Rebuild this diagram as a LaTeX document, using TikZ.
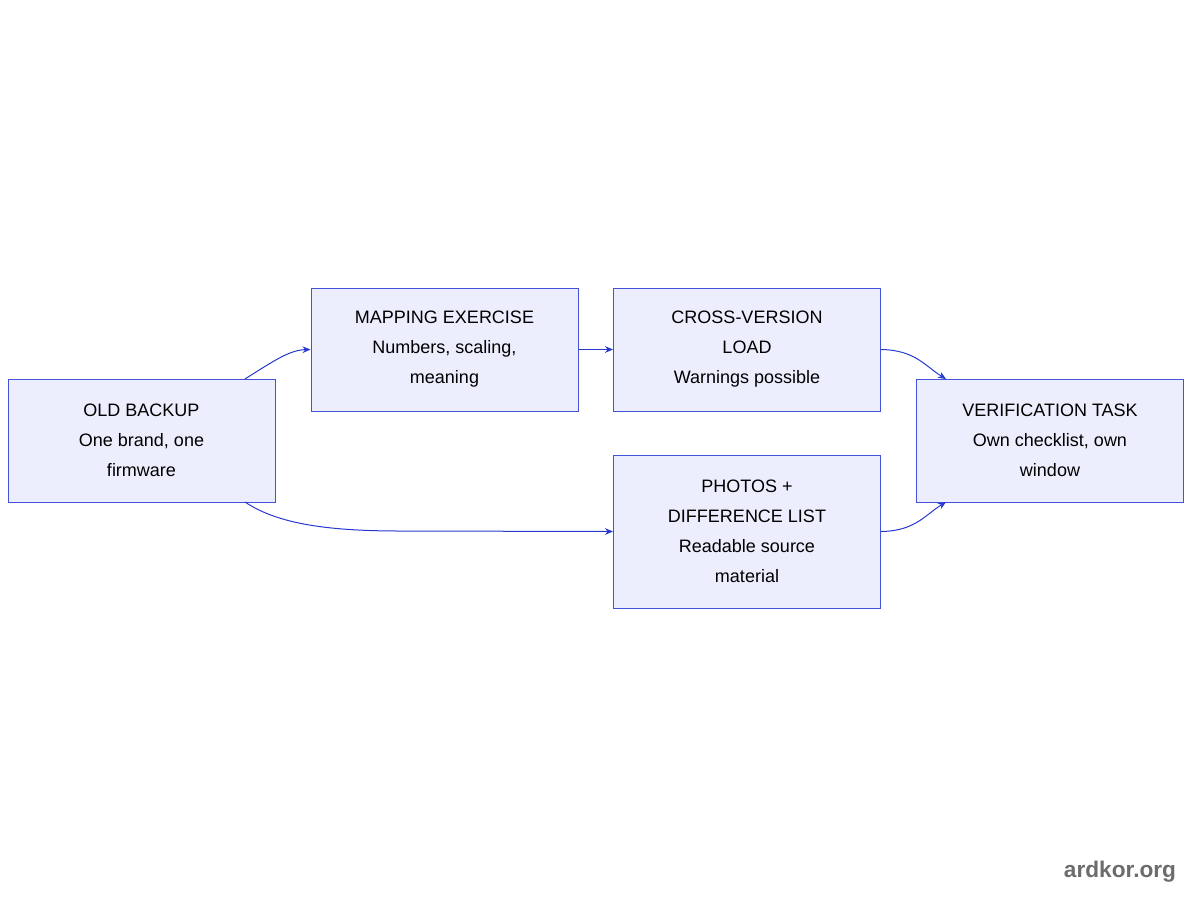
\documentclass[tikz,border=0pt]{standalone}
\usepackage{fontspec}
\setmainfont{Liberation Sans}
\usetikzlibrary{arrows.meta}
\definecolor{boxfill}{HTML}{ECEEFD}
\definecolor{boxline}{HTML}{4352D8}
\definecolor{edge}{HTML}{2638CF}
\begin{document}
\begin{tikzpicture}[x=0.75pt,y=-0.75pt,
  box/.style={draw=boxline,fill=boxfill,line width=0.75pt,minimum width=200.25pt,align=center,
    font=\fontsize{13.5}{22.5}\selectfont,inner sep=0pt},
  conn/.style={draw=edge,line width=0.75pt,-{Stealth[length=6pt,width=5pt]}}]
\useasboundingbox (0,0) rectangle (1200,900);
\node[box,minimum height=92.25pt] (old) at (141.5,440.5) {OLD BACKUP\\One brand, one\\firmware};
\node[box,minimum height=92.25pt] (map) at (444.5,349.5) {MAPPING EXERCISE\\Numbers, scaling,\\meaning};
\node[box,minimum height=92.25pt] (cross) at (747,349.5) {CROSS-VERSION\\LOAD\\Warnings possible};
\node[box,minimum height=114.75pt] (photo) at (747,531.5) {PHOTOS +\\DIFFERENCE LIST\\Readable source\\material};
\node[box,minimum height=92.25pt] (ver) at (1050,440.5) {VERIFICATION TASK\\Own checklist, own\\window};
\coordinate (o1) at (245,379);
\coordinate (o2) at (245,502);
\coordinate (v1) at (946,379);
\coordinate (v2) at (946,502);
\draw[conn] (o1) .. controls (275,360) and (290,350) .. (map.west);
\draw[conn] (o2) .. controls (275,522) and (320,531) .. (400,531) -- (photo.west);
\draw[conn] (map.east) -- (cross.west);
\draw[conn] (cross.east) .. controls (915,350) and (925,366) .. (v1);
\draw[conn] (photo.east) .. controls (915,531) and (925,515) .. (v2);
\node[text=gray!85!black,font=\fontsize{17}{20}\selectfont\bfseries] (wm) at (1120,872) {ardkor.org};
\end{tikzpicture}
\end{document}
